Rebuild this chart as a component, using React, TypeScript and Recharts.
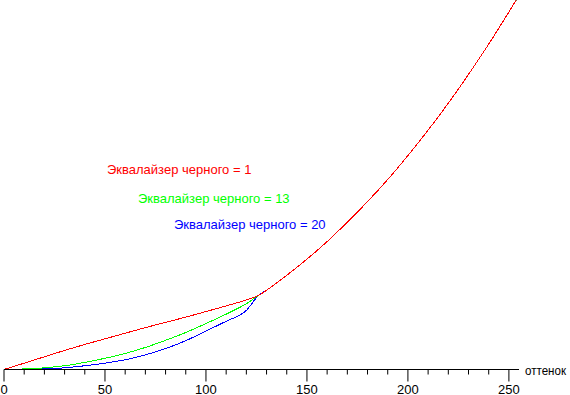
import { LineChart, Line, XAxis, YAxis } from "recharts";

// shade levels (0..255) where the curves were read
const shades = [
  0, 10, 20, 30, 40, 50, 60, 70, 80, 90, 100, 110, 120, 126, 130, 140, 150, 160, 170, 180, 190, 200,
  210, 220, 230, 240, 250, 255,
];

// relative brightness, % of white
const lowEq1 = [0, 1.7, 3.4, 5.1, 6.7, 8.2, 9.7, 11.2, 12.6, 14.0, 15.5, 17.0, 18.6, 19.8];
const lowEq13 = [0, 0.15, 0.45, 1.0, 1.9, 3.0, 4.3, 5.9, 7.8, 9.9, 12.3, 14.8, 17.6, 19.8];
const lowEq20 = [0, 0.05, 0.15, 0.45, 1.0, 1.7, 2.6, 3.9, 5.6, 7.7, 10.3, 12.9, 15.8, 19.8];
// above ~126 all three settings give the same curve
const highPart = [21.2, 25.2, 29.5, 34.2, 39.4, 44.9, 50.8, 57.2, 64.0, 71.2, 78.9, 87.0, 95.6, 100];

const tickValues = [0, 10, 20, 30, 40, 50, 60, 70, 80, 90, 100, 110, 120, 130, 140, 150, 160, 170, 180, 190, 200, 210, 220, 230, 240, 250];

const series = [
  { key: "eq20", name: "Эквалайзер черного = 20", color: "#0000ff", values: [...lowEq20, ...highPart] },
  { key: "eq13", name: "Эквалайзер черного = 13", color: "#00ff00", values: [...lowEq13, ...highPart] },
  { key: "eq1", name: "Эквалайзер черного = 1", color: "#ff0000", values: [...lowEq1, ...highPart] },
];

const FONT = "'Liberation Sans', Arial, sans-serif";

const data = shades.map((s, i) => {
  const row: Record<string, number> = { shade: s };
  series.forEach((ser) => (row[ser.key] = ser.values[i]));
  return row;
});

const ShadeTick = (props: any) => {
  const { x, y, payload } = props;
  const major = payload.value % 50 === 0;
  return (
    <g>
      <line x1={x} y1={y} x2={x} y2={y + (major ? 12 : 5)} stroke="#000" />
      {major && (
        <text x={x} y={y + 24} textAnchor="middle" fontSize={13} fontFamily={FONT} fill="#000">
          {payload.value}
        </text>
      )}
    </g>
  );
};

export default function App() {
  return (
    <div style={{ position: "absolute", left: 0, top: 0, width: 570, height: 395, background: "#fff" }}>
      <style>{".recharts-line-curve{shape-rendering:crispEdges}"}</style>
      <LineChart width={570} height={395} data={data} margin={{ top: 0.5, right: 51, bottom: 0, left: 4 }}>
        <XAxis
          dataKey="shade"
          type="number"
          domain={[0, 255]}
          ticks={tickValues}
          interval={0}
          tickSize={0}
          tickMargin={0}
          tickLine={false}
          height={25.5}
          axisLine={{ stroke: "#000" }}
          tick={<ShadeTick />}
        />
        <YAxis hide domain={[0, 98.66]} allowDataOverflow />
        {series.map((s) => (
          <Line
            key={s.key}
            dataKey={s.key}
            type="monotone"
            stroke={s.color}
            strokeWidth={1}
            dot={false}
            isAnimationActive={false}
          />
        ))}
      </LineChart>
      <svg
        width={570}
        height={395}
        style={{ position: "absolute", left: 0, top: 0, pointerEvents: "none" }}
        fontFamily={FONT}
        fontSize={13}
      >
        <text x={107} y={174} fill="#ff0000">Эквалайзер черного = 1</text>
        <text x={138} y={203} fill="#00ff00">Эквалайзер черного = 13</text>
        <text x={174} y={229} fill="#0000ff">Эквалайзер черного = 20</text>
        <text x={525} y={375} fill="#000" fontSize={12} textLength={41} lengthAdjust="spacingAndGlyphs">
          оттенок
        </text>
      </svg>
    </div>
  );
}
